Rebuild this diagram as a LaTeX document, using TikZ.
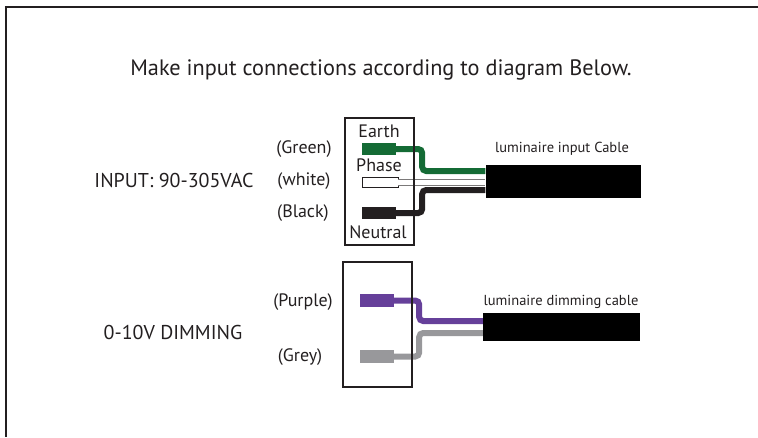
\documentclass[tikz,border=0pt]{standalone}
\usepackage{fontspec}
\setmainfont{PT Sans}
\usetikzlibrary{calc}
\definecolor{txt}{HTML}{231F20}
\definecolor{wgreen}{HTML}{146B35}
\definecolor{wpurple}{HTML}{66409A}
\definecolor{wgrey}{HTML}{98989B}
\definecolor{wblack}{HTML}{231F20}
\tikzstyle{term} = [inner sep=0pt,minimum width=34pt,minimum height=12pt]
\tikzstyle{cable} = [fill=black,inner sep=0pt,minimum width=155pt]
\tikzstyle{tbox} = [draw=txt,line width=2pt,inner sep=0pt,minimum width=69pt]
\tikzstyle{wire} = [line width=6pt,rounded corners=4pt]
\tikzstyle{lbl} = [text=txt,font=\fontsize{18}{20}\selectfont]
\tikzstyle{big} = [text=txt,font=\fontsize{20}{22}\selectfont]
\tikzstyle{small} = [text=txt,font=\fontsize{14.5}{16}\selectfont]

\begin{document}
\begin{tikzpicture}[x=1pt,y=-1pt]
  \useasboundingbox (0,0) rectangle (758,437);
  % Frame
  \draw[line width=2.5pt,draw=txt] (4.75,7) -- (758,7);
  \draw[line width=2.5pt,draw=txt] (6,7) -- (6,437);
  \node[big,font=\fontsize{22.3}{24}\selectfont] (title) at (381,70) {Make input connections according to diagram Below.};
  % Input side
  \node[big] (input) at (174,180) {INPUT: 90-305VAC};
  \node[lbl] (lgreen) at (304,149) {(Green)};
  \node[lbl] (lwhite) at (304,181) {(white)};
  \node[lbl] (lblack) at (303,213) {(Black)};
  \node[term,fill=wgreen] (green) at (379,149) { };
  \node[term,draw=txt,fill=white,minimum width=36pt,minimum height=10pt] (white) at (380,182) { };
  \node[term,fill=wblack] (black) at (379,213) { };
  \node[cable,minimum height=33pt] (incable) at (563,181.5) { };
  \node[small] (lincable) at (562,149) {luminaire input Cable};
  \draw[wire,wgreen] (green.east) -- ++(26,0) |- ($(incable.west)+(0,-10.5)$);
  \draw[wire,wblack] (black.east) -- ++(26,0) |- ($(incable.west)+(0,8.5)$);
  \draw[line width=7pt,txt!60] (white.east) -- (white.east -| incable.west);
  \draw[line width=5pt,white] (white.east) -- (white.east -| incable.west);
  \node[tbox,minimum height=127pt] (inbox) at (379.5,181.5) { };
  \node[lbl] (earth) at (379,131) {Earth};
  \node[lbl] (phase) at (379,165) {Phase};
  \node[lbl] (neutral) at (378,232) {Neutral};
  % Dimming side
  \node[big] (dimming) at (173,332) {0-10V DIMMING};
  \node[lbl] (lpurple) at (303,302) {(Purple)};
  \node[lbl] (lgrey) at (300,357) {(Grey)};
  \node[term,fill=wpurple,minimum height=13pt] (purple) at (377,300.5) { };
  \node[term,fill=wgrey,minimum height=13pt] (grey) at (377,356.5) { };
  \node[cable,minimum width=157pt,minimum height=28pt] (dimcable) at (561.5,327) { };
  \node[small] (ldimcable) at (561,302) {luminaire dimming cable};
  \draw[wire,wpurple] (purple.east) -- ++(25,0) |- ($(dimcable.west)+(0,-6)$);
  \draw[wire,wgrey] (grey.east) -- ++(25,0) |- ($(dimcable.west)+(0,6)$);
  \node[tbox,minimum height=125pt] (dimbox) at (377.5,324.5) { };
\end{tikzpicture}
\end{document}
